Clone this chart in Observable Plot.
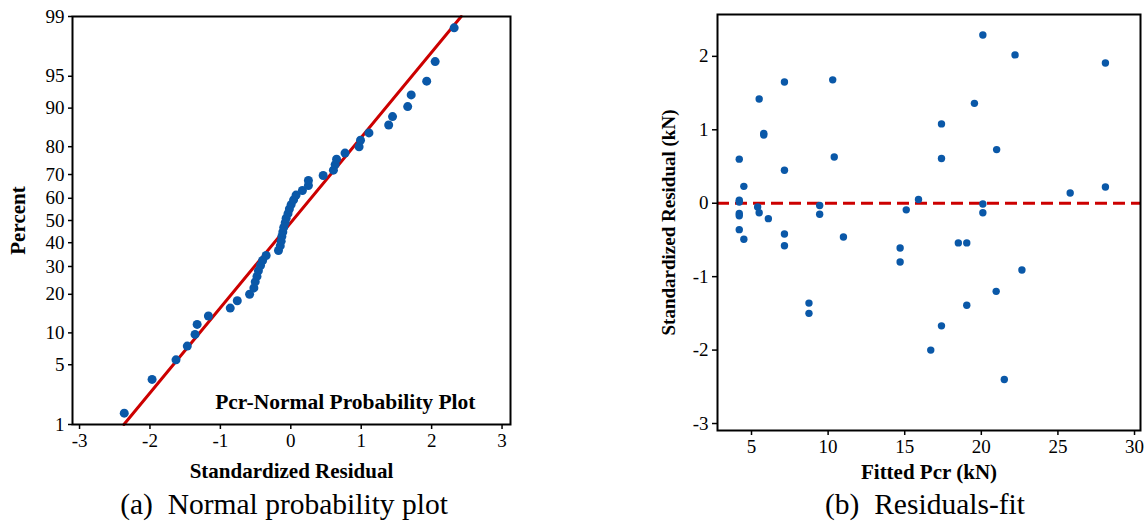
<!DOCTYPE html>
<html>
<head>
<meta charset="utf-8">
<script src="https://cdn.jsdelivr.net/npm/d3@7"></script>
<script src="https://cdn.jsdelivr.net/npm/@observablehq/plot@0.6"></script>
<style>
  html, body { margin: 0; padding: 0; background: #fff; }
  #wrap { position: relative; width: 1148px; height: 527px; overflow: hidden; background: #fff; }
  .panel { position: absolute; top: 0; width: 574px; height: 480px; }
  #wrap svg, #wrap svg text, #wrap svg tspan { font-family: 'Liberation Serif', 'Times New Roman', serif !important; }
  .cap { position: absolute; top: 488px; font-family: 'Liberation Serif', 'Times New Roman', serif; font-size: 29.5px; color: #000; white-space: pre; transform: translateX(-50%); line-height: 1.1; }
</style>
</head>
<body>
<div id="wrap">
  <div class="panel" id="left" style="left:0"></div>
  <div class="panel" id="right" style="left:574px"></div>
  <div class="cap" style="left:284px">(a)  Normal probability plot</div>
  <div class="cap" style="left:925px">(b)  Residuals-fit</div>
</div>
<script>
// ---------- Data: (a) normal probability plot ----------
const sortedResidual = [-2.365, -1.97, -1.63, -1.47, -1.36, -1.33, -1.17, -0.86, -0.76, -0.585,
  -0.524, -0.505, -0.48, -0.46, -0.43, -0.40, -0.35, -0.175, -0.15, -0.137,
  -0.127, -0.113, -0.10, -0.08, -0.066, -0.04, -0.02, 0.005, 0.04, 0.075,
  0.165, 0.25, 0.25, 0.46, 0.605, 0.63, 0.65, 0.77, 0.97, 0.99,
  1.11, 1.39, 1.445, 1.66, 1.71, 1.93, 2.05, 2.32];
const percentRank = [1.4, 3.5, 5.6, 7.6, 9.7, 11.8, 13.8, 15.9, 18.0, 20.0,
  22.1, 24.2, 26.2, 28.3, 30.4, 32.4, 34.5, 36.6, 38.6, 40.7,
  42.8, 44.8, 46.9, 49.0, 51.0, 53.1, 55.2, 57.2, 59.3, 61.4,
  63.4, 65.5, 67.6, 69.6, 71.7, 73.8, 75.8, 77.9, 80.0, 82.0,
  84.1, 86.2, 88.2, 90.3, 92.4, 94.4, 96.5, 98.6];
const fitLineResidual = [-2.37, 2.42];
const fitLinePercent = [1, 99];
const percentTicks = [1, 5, 10, 20, 30, 40, 50, 60, 70, 80, 90, 95, 99];
const residualTicksA = [-3, -2, -1, 0, 1, 2, 3];

// ---------- Data: (b) residuals vs fits ----------
const fittedPcr = [4.2, 4.5, 4.2, 4.2, 4.2, 4.2, 4.2, 4.5, 5.5, 5.8,
  5.8, 7.15, 7.15, 5.4, 5.5, 6.1, 7.15, 7.15, 10.3, 10.4,
  9.45, 9.45, 11.0, 8.75, 8.75, 14.7, 14.7, 20.1, 22.2, 28.1,
  19.55, 17.4, 17.4, 21.0, 25.8, 28.1, 15.9, 15.1, 20.1, 20.1,
  18.5, 19.05, 22.65, 20.97, 19.05, 17.4, 16.7, 21.5];
const stdResidual = [0.60, 0.23, 0.04, 0.015, -0.14, -0.17, -0.36, -0.49, 1.42, 0.95,
  0.93, 1.65, 0.45, -0.05, -0.13, -0.21, -0.42, -0.58, 1.68, 0.63,
  -0.03, -0.15, -0.46, -1.36, -1.50, -0.61, -0.80, 2.29, 2.02, 1.91,
  1.36, 1.08, 0.61, 0.73, 0.14, 0.22, 0.05, -0.09, -0.01, -0.13,
  -0.54, -0.54, -0.91, -1.20, -1.39, -1.67, -2.00, -2.40];
const fitTicks = [5, 10, 15, 20, 25, 30];
const residTicksB = [-3, -2, -1, 0, 1, 2];

// ---------- helpers ----------
// inverse standard normal CDF (Acklam)
function probit(p) {
  const a = [-3.969683028665376e+01, 2.209460984245205e+02, -2.759285104469687e+02, 1.383577518672690e+02, -3.066479806614716e+01, 2.506628277459239e+00];
  const b = [-5.447609879822406e+01, 1.615858368580409e+02, -1.556989798598866e+02, 6.680131188771972e+01, -1.328068155288572e+01];
  const c = [-7.784894002430293e-03, -3.223964580411365e-01, -2.400758277161838e+00, -2.549732539343734e+00, 4.374664141464968e+00, 2.938163982698783e+00];
  const d = [7.784695709041462e-03, 3.224671290700398e-01, 2.445134137142996e+00, 3.754408661907416e+00];
  const pl = 0.02425, ph = 1 - pl;
  let q, r;
  if (p < pl) { q = Math.sqrt(-2 * Math.log(p)); return (((((c[0]*q+c[1])*q+c[2])*q+c[3])*q+c[4])*q+c[5]) / ((((d[0]*q+d[1])*q+d[2])*q+d[3])*q+1); }
  if (p > ph) { q = Math.sqrt(-2 * Math.log(1 - p)); return -(((((c[0]*q+c[1])*q+c[2])*q+c[3])*q+c[4])*q+c[5]) / ((((d[0]*q+d[1])*q+d[2])*q+d[3])*q+1); }
  q = p - 0.5; r = q * q;
  return (((((a[0]*r+a[1])*r+a[2])*r+a[3])*r+a[4])*r+a[5])*q / (((((b[0]*r+b[1])*r+b[2])*r+b[3])*r+b[4])*r+1);
}
const z = pct => probit(pct / 100);
const fmt = v => String(v);

const serif = "'Liberation Serif', 'Times New Roman', serif";
const blue = "#0A58A8";
const red = "#CC0000";

const probData = sortedResidual.map((r, i) => ({r, p: percentRank[i]}));
const lineData = fitLineResidual.map((r, i) => ({r, p: fitLinePercent[i]}));
const yTickZ = percentTicks.map(z);
const yTickLabel = v => { const i = yTickZ.findIndex(t => Math.abs(t - v) < 1e-9); return i >= 0 ? String(percentTicks[i]) : ""; };

const left = Plot.plot({
  width: 574, height: 480,
  marginLeft: 72, marginRight: 64, marginTop: 16, marginBottom: 56,
  style: {fontFamily: serif, fontSize: "19px", color: "#000", background: "transparent", overflow: "visible"},
  x: {domain: [-3.10, 3.12]},
  y: {domain: [z(1), z(99)]},
  marks: [
    Plot.axisX({ticks: residualTicksA, tickFormat: fmt, tickSize: 5, tickPadding: 4, strokeWidth: 1.5, label: null, fontFamily: serif, fontSize: 19}),
    Plot.axisY({ticks: yTickZ, tickFormat: yTickLabel, tickSize: 4, tickPadding: 4, strokeWidth: 1.5, label: null, fontFamily: serif, fontSize: 19}),
    Plot.line(lineData, {x: "r", y: d => z(d.p), stroke: red, strokeWidth: 3}),
    Plot.dot(probData, {x: "r", y: d => z(d.p), r: 4.5, fill: blue, stroke: "none"}),
    Plot.frame({strokeWidth: 2}),
    Plot.text(["Pcr-Normal Probability Plot"], {text: d => d, frameAnchor: "bottom-right", textAnchor: "end", lineAnchor: "middle", dx: -35, dy: -22, fontWeight: "bold", fontSize: 21.5, fontFamily: serif}),
    Plot.text(["Standardized Residual"], {text: d => d, frameAnchor: "bottom", textAnchor: "middle", lineAnchor: "middle", dy: 47, fontWeight: "bold", fontSize: 21, fontFamily: serif}),
    Plot.text(["Percent"], {text: d => d, frameAnchor: "left", textAnchor: "middle", lineAnchor: "middle", rotate: -90, dx: -54, fontWeight: "bold", fontSize: 21, fontFamily: serif})
  ]
});
document.getElementById("left").appendChild(left);

const fitData = fittedPcr.map((f, i) => ({f, r: stdResidual[i]}));
const right = Plot.plot({
  width: 574, height: 480,
  marginLeft: 143, marginRight: 8, marginTop: 14, marginBottom: 50,
  style: {fontFamily: serif, fontSize: "19px", color: "#000", background: "transparent", overflow: "visible"},
  x: {domain: [2.78, 30.39]},
  y: {domain: [-3.095, 2.57]},
  marks: [
    Plot.axisX({ticks: fitTicks, tickFormat: fmt, tickSize: 5, tickPadding: 4, strokeWidth: 1.5, label: null, fontFamily: serif, fontSize: 19}),
    Plot.axisY({ticks: residTicksB, tickFormat: fmt, tickSize: 5, tickPadding: 4, strokeWidth: 1.5, label: null, fontFamily: serif, fontSize: 19}),
    Plot.ruleY([0], {stroke: red, strokeWidth: 3, strokeDasharray: "12,6"}),
    Plot.dot(fitData, {x: "f", y: "r", r: 3.7, fill: blue, stroke: "none"}),
    Plot.frame({strokeWidth: 2}),
    Plot.text(["Fitted Pcr (kN)"], {text: d => d, frameAnchor: "bottom", textAnchor: "middle", lineAnchor: "middle", dy: 42, fontWeight: "bold", fontSize: 21, fontFamily: serif}),
    Plot.text(["Standardized Residual (kN)"], {text: d => d, frameAnchor: "left", textAnchor: "middle", lineAnchor: "middle", rotate: -90, dx: -49, fontWeight: "bold", fontSize: 19, fontFamily: serif})
  ]
});
document.getElementById("right").appendChild(right);
</script>
</body>
</html>
